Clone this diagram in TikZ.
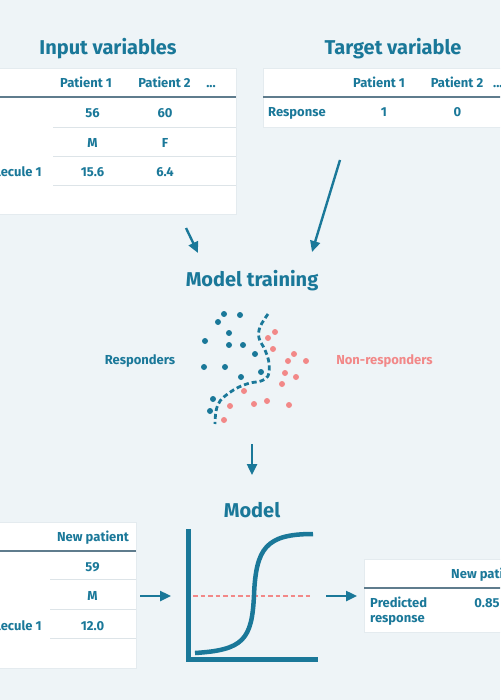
\documentclass[tikz,border=0pt]{standalone}
\usepackage{fontspec}
\setmainfont{Fira Sans}
\usetikzlibrary{arrows.meta}

\definecolor{bgcol}{HTML}{EEF4F7}
\definecolor{deepteal}{HTML}{1A7899}
\definecolor{softpink}{HTML}{F28888}
\definecolor{rulegray}{HTML}{5F7C8D}
\definecolor{sepgray}{HTML}{DDE4E8}
\definecolor{boxedge}{HTML}{E4EBEF}

\begin{document}
\begin{tikzpicture}[
  x=1pt, y=-1pt,
  >={Triangle[length=11pt, width=10pt]},
  heading/.style={font=\bfseries\fontsize{20}{24}\selectfont, text=deepteal, inner sep=0pt, anchor=base},
  cell/.style={font=\bfseries\fontsize{13}{15}\selectfont, text=deepteal, inner sep=0pt, anchor=base},
  rowlbl/.style={cell, anchor=base west},
  tablebox/.style={fill=white, draw=boxedge, line width=0.5pt},
  headrule/.style={draw=rulegray, line width=1.1pt},
  rowrule/.style={draw=sepgray, line width=0.8pt},
  flow/.style={->, draw=deepteal, line width=2.4pt},
  border/.style={draw=deepteal, line width=5pt},
  dashcurve/.style={draw=deepteal, line width=2.8pt, dash pattern=on 5pt off 3pt}
]

\fill[bgcol] (0,0) rectangle (500,700);
\clip (0,0) rectangle (500,700);

% Input variables
\node[heading] (intitle) at (108,55) {Input variables};
\filldraw[tablebox] (-10,68) rectangle (236,214);
\draw[headrule] (-10,97) -- (236,97);
\foreach \y in {127,156,185} \draw[rowrule] (53,\y) -- (236,\y);
\node[cell] (inpa) at (86,87.5) {Patient 1};
\node[cell] (inpb) at (164.5,87.5) {Patient 2};
\node[cell] (indots) at (211,87.5) {...};
\node[rowlbl] (inage) at (-22,117.5) {Age};
\node[rowlbl] (inmol) at (-21,176.5) {Molecule 1};
\foreach \a/\b/\y in {56/60/117.5, M/F/147.5, 15.6/6.4/176.5} {
  \node[cell] at (92.5,\y) {\a};
  \node[cell] at (165,\y) {\b};
}

% Target variable
\node[heading] (tgtitle) at (393,55) {Target variable};
\filldraw[tablebox] (263,68) rectangle (510,127);
\draw[headrule] (263,97) -- (510,97);
\node[cell] (tgpa) at (379,87.5) {Patient 1};
\node[cell] (tgpb) at (457,87.5) {Patient 2};
\node[cell, anchor=base west] (tgdots) at (493,87.5) {...};
\node[rowlbl] (tgresp) at (268,116.5) {Response};
\node[cell] (tgone) at (384,116.5) {1};
\node[cell] (tgzero) at (457.5,116.5) {0};

% Model training
\node[heading] (train) at (252,286) {Model training};
\coordinate (inout) at (186,228);
\coordinate (tgout) at (340,160);
\coordinate (trainl) at (198,253);
\coordinate (trainr) at (312,252);
\draw[flow] (inout) -- (trainl);
\draw[flow] (tgout) -- (trainr);

\node[cell] (resp) at (140,364) {Responders};
\node[cell, text=softpink] (nonresp) at (384.5,364) {Non-responders};

\draw[dashcurve] plot[smooth, tension=0.6] coordinates {(268,314) (260,327) (259,338) (265,350) (269,363) (268,376) (261,381) (250,383) (239,387) (229,393) (220,401) (216,411) (215,424)};
\foreach \px/\py in {224/314, 240/315, 218/322, 229/333, 205/341, 229/345, 243/345, 255/354, 204/367, 225/367, 241/377, 261/372, 213/399, 210/411}
  \fill[deepteal] (\px,\py) circle (3pt);
\foreach \px/\py in {275/332, 268/338, 273/349, 294/354, 288/361, 306/361, 285/373, 296/377, 282/384, 244/391, 230/406, 254/404, 267/401, 289/405, 224/420}
  \fill[softpink] (\px,\py) circle (3pt);

% Model
\coordinate (trainout) at (252,444);
\coordinate (modelin) at (252,475);
\draw[flow] (trainout) -- (modelin);
\node[heading] (model) at (252,517) {Model};
\draw[border] (188,529) -- (188,659) -- (318,659);
\draw[draw=softpink, line width=2.2pt, dash pattern=on 4.5pt off 3pt] (193,596) -- (311,596);
\draw[draw=deepteal, line width=4.5pt] (195,653) .. controls (243,650) and (252,640) .. (254,595) .. controls (256,548) and (266,534) .. (313,534);

% New patient
\filldraw[tablebox] (-10,522) rectangle (136,668);
\draw[headrule] (-10,551) -- (136,551);
\foreach \y in {579,609,638} \draw[rowrule] (50,\y) -- (136,\y);
\node[cell] (newp) at (93,541.5) {New patient};
\node[rowlbl] (newage) at (-22,571.5) {Age};
\node[rowlbl] (newmol) at (-21,630.5) {Molecule 1};
\foreach \v/\y in {59/571.5, M/600.5, 12.0/630.5}
  \node[cell] at (92.5,\y) {\v};
\coordinate (newout) at (140,596);
\coordinate (plotin) at (171,596);
\draw[flow] (newout) -- (plotin);

% Prediction
\coordinate (plotout) at (326,596);
\coordinate (predin) at (357,596);
\draw[flow] (plotout) -- (predin);
\filldraw[tablebox] (364,559) rectangle (510,632);
\draw[headrule] (364,588) -- (510,588);
\node[cell, anchor=base west] (predhead) at (451,578.5) {New patient};
\node[cell, anchor=north west, align=left] (predlbl) at (370,597) {Predicted\\response};
\node[cell] (predval) at (487,607.5) {0.85};

\end{tikzpicture}
\end{document}
